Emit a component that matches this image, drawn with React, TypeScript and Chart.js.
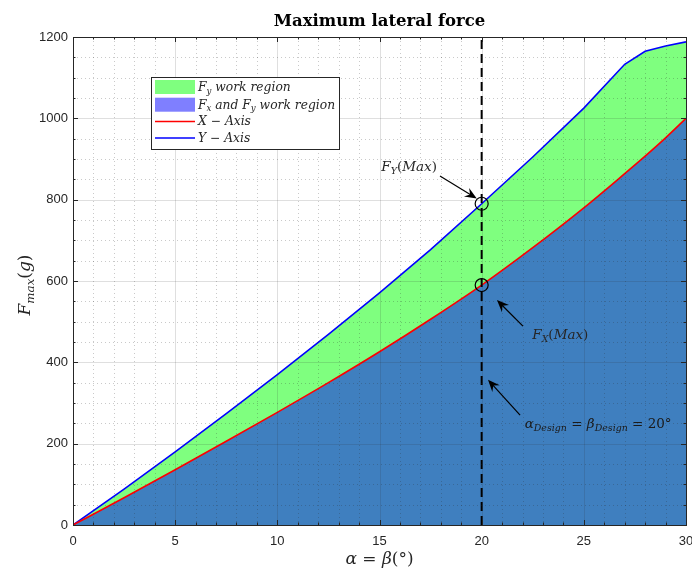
import React, { useEffect, useRef } from 'react';
import { Chart, registerables } from 'chart.js';
Chart.register(...registerables);

// ---- data ----
const alphaDeg = [0, 2.5, 5, 7.5, 10, 12.5, 15, 17.5, 20, 22.5, 25, 27, 28, 29, 30];
const fyMax = [0, 88, 180, 274, 370, 469, 571, 677, 790, 905, 1025, 1133, 1165, 1178, 1188];
const fxMax = [0, 67, 136, 206, 277, 350, 426, 506, 590, 682, 780, 864, 907, 952, 1000];
const xTickValues = [0, 5, 10, 15, 20, 25, 30];
const yTickValues = [0, 200, 400, 600, 800, 1000, 1200];
const designAngle = 20;

const TITLE = 'Maximum lateral force';
type Seg = [string, string];
const xTitle: Seg[] = [['α', 'i'], [' = ', 'r'], ['β', 'i'], ['(°)', 'r']];
const yTitle: Seg[] = [['F', 'i'], ['max', 'si'], ['(', 'r'], ['g', 'i'], [')', 'r']];
const legendLabels: Seg[][] = [
  [['F', 'i'], ['y', 'si'], [' work region', 'i']],
  [['F', 'i'], ['x', 'si'], [' and ', 'i'], ['F', 'i'], ['y', 'si'], [' work region', 'i']],
  [['X', 'i'], [' − ', 'r'], ['Axis', 'i']],
  [['Y', 'i'], [' − ', 'r'], ['Axis', 'i']],
];
const annoLabels: Seg[][] = [
  [['F', 'i'], ['Y', 'si'], ['(', 'r'], ['Max', 'i'], [')', 'r']],
  [['F', 'i'], ['X', 'si'], ['(', 'r'], ['Max', 'i'], [')', 'r']],
  [['α', 'i'], ['Design', 'si'], [' = ', 'r'], ['β', 'i'], ['Design', 'si'], [' = 20°', 'r']],
];
// annotation anchor points in data coordinates: text centre, arrow tail, arrow tip
const annoText = [[16.45, 883], [23.85, 470], [25.7, 251]];
const annoTail = [[17.96, 858], [22.02, 489], [21.88, 270]];
const annoTip = [[19.76, 803], [20.75, 553], [20.31, 357]];

const TXT = '#262626';
const SERIF = '"DejaVu Serif", "Liberation Serif", serif';
const SANS = '"Liberation Sans", Arial, sans-serif';
const PLOT_RIGHT_GAP = 6;

function drawRich(ctx: CanvasRenderingContext2D, segs: Seg[], x: number, y: number, size: number, align = 'left') {
  const fontFor = (st: string) => {
    const sub = st.startsWith('s');
    const it = st.endsWith('i');
    const sz = sub ? size * 0.7 : size;
    return `${it ? 'italic ' : ''}${sz}px ${SERIF}`;
  };
  let total = 0;
  for (const [t, st] of segs) { ctx.font = fontFor(st); total += ctx.measureText(t).width; }
  let cx = align === 'center' ? x - total / 2 : align === 'right' ? x - total : x;
  ctx.textAlign = 'left';
  ctx.textBaseline = 'alphabetic';
  for (const [t, st] of segs) {
    ctx.font = fontFor(st);
    const dy = st.startsWith('s') ? size * 0.22 : 0;
    ctx.fillText(t, cx, y + dy);
    cx += ctx.measureText(t).width;
  }
  return total;
}

function arrow(ctx: CanvasRenderingContext2D, x1: number, y1: number, x2: number, y2: number) {
  const a = Math.atan2(y2 - y1, x2 - x1);
  const c = Math.cos(a), s = Math.sin(a);
  const L = 12, W = 5;
  ctx.strokeStyle = '#000';
  ctx.fillStyle = '#000';
  ctx.lineWidth = 1.2;
  ctx.beginPath();
  ctx.moveTo(x1, y1);
  ctx.lineTo(x2 - c * L * 0.6, y2 - s * L * 0.6);
  ctx.stroke();
  ctx.beginPath();
  ctx.moveTo(x2, y2);
  ctx.lineTo(x2 - c * L + s * W, y2 - s * L - c * W);
  ctx.lineTo(x2 - c * L * 0.65, y2 - s * L * 0.65);
  ctx.lineTo(x2 - c * L - s * W, y2 - s * L + c * W);
  ctx.closePath();
  ctx.fill();
}

const decor = {
  id: 'decor',
  afterLayout(chart: any) {
    const target = chart.width - PLOT_RIGHT_GAP;
    const xs = chart.scales.x;
    chart.chartArea.right = target;
    chart.chartArea.width = target - chart.chartArea.left;
    xs.right = target;
    xs.width = target - xs.left;
    xs.configure();
  },
  afterDatasetsDraw(chart: any) {
    const { ctx, chartArea: ca, scales } = chart;
    const xs = scales.x, ys = scales.y;
    ctx.save();
    // minor grid
    ctx.setLineDash([1, 3]);
    ctx.strokeStyle = 'rgba(38,38,38,0.25)';
    ctx.lineWidth = 1;
    for (let v = 0; v <= 30; v += 1) {
      if (v % 5 === 0) continue;
      const px = Math.round(xs.getPixelForValue(v)) + 0.5;
      ctx.beginPath(); ctx.moveTo(px, ca.top); ctx.lineTo(px, ca.bottom); ctx.stroke();
    }
    for (let v = 0; v <= 1200; v += 50) {
      if (v % 200 === 0) continue;
      const py = Math.round(ys.getPixelForValue(v)) + 0.5;
      ctx.beginPath(); ctx.moveTo(ca.left, py); ctx.lineTo(ca.right, py); ctx.stroke();
    }
    // major grid
    ctx.setLineDash([]);
    ctx.strokeStyle = 'rgba(38,38,38,0.15)';
    for (const v of xTickValues) {
      const px = Math.round(xs.getPixelForValue(v)) + 0.5;
      ctx.beginPath(); ctx.moveTo(px, ca.top); ctx.lineTo(px, ca.bottom); ctx.stroke();
    }
    for (const v of yTickValues) {
      const py = Math.round(ys.getPixelForValue(v)) + 0.5;
      ctx.beginPath(); ctx.moveTo(ca.left, py); ctx.lineTo(ca.right, py); ctx.stroke();
    }
    // tick marks
    ctx.strokeStyle = TXT;
    for (let v = 0; v <= 30; v += 1) {
      const len = v % 5 === 0 ? 5 : 2.5;
      const px = Math.round(xs.getPixelForValue(v)) + 0.5;
      ctx.beginPath();
      ctx.moveTo(px, ca.bottom); ctx.lineTo(px, ca.bottom - len);
      ctx.moveTo(px, ca.top); ctx.lineTo(px, ca.top + len);
      ctx.stroke();
    }
    for (let v = 0; v <= 1200; v += 50) {
      const len = v % 200 === 0 ? 5 : 2.5;
      const py = Math.round(ys.getPixelForValue(v)) + 0.5;
      ctx.beginPath();
      ctx.moveTo(ca.left, py); ctx.lineTo(ca.left + len, py);
      ctx.moveTo(ca.right, py); ctx.lineTo(ca.right - len, py);
      ctx.stroke();
    }
    // box
    ctx.strokeStyle = TXT;
    ctx.lineWidth = 1;
    ctx.strokeRect(Math.round(ca.left) + 0.5, Math.round(ca.top) + 0.5, Math.round(ca.right - ca.left), Math.round(ca.bottom - ca.top));
    ctx.restore();
  },
  afterDraw(chart: any) {
    const { ctx, chartArea: ca, scales } = chart;
    const xs = scales.x, ys = scales.y;
    ctx.save();
    // x tick labels (drawn here so the last one can run off the canvas like the reference)
    ctx.fillStyle = TXT;
    ctx.font = `13px ${SANS}`;
    ctx.textAlign = 'center';
    ctx.textBaseline = 'middle';
    for (const v of xTickValues) ctx.fillText(String(v), xs.getPixelForValue(v), ca.bottom + 16);
    // title
    ctx.fillStyle = '#000';
    ctx.font = `bold 16.5px ${SERIF}`;
    ctx.textAlign = 'center';
    ctx.textBaseline = 'alphabetic';
    ctx.fillText(TITLE, (ca.left + ca.right) / 2, 26);
    // axis titles
    ctx.fillStyle = TXT;
    drawRich(ctx, xTitle, (ca.left + ca.right) / 2, 564, 17, 'center');
    ctx.save();
    ctx.translate(30, (ca.top + ca.bottom) / 2 + 4);
    ctx.rotate(-Math.PI / 2);
    drawRich(ctx, yTitle, 0, 0, 17, 'center');
    ctx.restore();
    // annotations
    for (let i = 0; i < annoLabels.length; i++) {
      const tx = xs.getPixelForValue(annoText[i][0]);
      const ty = ys.getPixelForValue(annoText[i][1]);
      ctx.fillStyle = i === 2 ? '#1a1a1a' : TXT;
      drawRich(ctx, annoLabels[i], tx, ty + 5, 13.5, 'center');
      arrow(ctx,
        xs.getPixelForValue(annoTail[i][0]), ys.getPixelForValue(annoTail[i][1]),
        xs.getPixelForValue(annoTip[i][0]), ys.getPixelForValue(annoTip[i][1]));
    }
    // legend
    const lx = ca.left + 78, ly = ca.top + 40, lw = 188, lh = 72;
    ctx.fillStyle = '#fff';
    ctx.fillRect(lx, ly, lw, lh);
    ctx.strokeStyle = TXT;
    ctx.lineWidth = 1;
    ctx.strokeRect(Math.round(lx) + 0.5, Math.round(ly) + 0.5, lw, lh);
    const rows = [10, 27.7, 44.4, 61];
    const sw = [
      (y: number) => { ctx.fillStyle = 'rgba(0,255,0,0.5)'; ctx.fillRect(lx + 4, y - 7, 40, 14); },
      (y: number) => { ctx.fillStyle = 'rgba(0,0,255,0.5)'; ctx.fillRect(lx + 4, y - 7, 40, 14); },
      (y: number) => { ctx.strokeStyle = '#ff0000'; ctx.lineWidth = 1.5; ctx.beginPath(); ctx.moveTo(lx + 4, y); ctx.lineTo(lx + 44, y); ctx.stroke(); },
      (y: number) => { ctx.strokeStyle = '#0000ff'; ctx.lineWidth = 1.5; ctx.beginPath(); ctx.moveTo(lx + 4, y); ctx.lineTo(lx + 44, y); ctx.stroke(); },
    ];
    for (let i = 0; i < 4; i++) {
      const y = ly + rows[i];
      sw[i](y);
      ctx.fillStyle = TXT;
      drawRich(ctx, legendLabels[i], lx + 47, y + 4, 12.3, 'left');
    }
    ctx.restore();
  },
};

export default function App() {
  const ref = useRef<HTMLCanvasElement>(null);
  useEffect(() => {
    const canvas = ref.current!;
    const fyPts = alphaDeg.map((a, i) => ({ x: a, y: fyMax[i] }));
    const fxPts = alphaDeg.map((a, i) => ({ x: a, y: fxMax[i] }));
    const iD = alphaDeg.indexOf(designAngle);
    const chart = new Chart(canvas, {
      type: 'line',
      data: {
        datasets: [
          {
            label: 'X - Axis', data: fxPts, borderColor: '#ff0000', backgroundColor: 'rgba(0,0,255,0.5)',
            fill: 'origin', borderWidth: 1.6, pointRadius: 0, cubicInterpolationMode: 'monotone', order: 1,
          },
          {
            label: 'Y - Axis', data: fyPts, borderColor: '#0000ff', backgroundColor: 'rgba(0,255,0,0.5)',
            fill: 'origin', borderWidth: 1.6, pointRadius: 0, tension: 0, order: 2,
          },
          {
            label: 'design', data: [{ x: designAngle, y: yTickValues[0] }, { x: designAngle, y: yTickValues[yTickValues.length - 1] }],
            borderColor: '#000', borderDash: [9, 5], borderWidth: 2, pointRadius: 0, fill: false, order: 0,
          },
          {
            label: 'max', data: [{ x: designAngle, y: fyMax[iD] }, { x: designAngle, y: fxMax[iD] }],
            showLine: false, pointRadius: 6.5, pointBorderColor: '#000', pointBackgroundColor: 'rgba(0,0,0,0)',
            pointBorderWidth: 1.2, fill: false, order: -1,
          },
        ] as any,
      },
      options: {
        animation: false,
        responsive: false,
        layout: { padding: { left: 0, right: PLOT_RIGHT_GAP, top: 37, bottom: 0 } },
        plugins: { legend: { display: false }, tooltip: { enabled: false }, title: { display: false } },
        scales: {
          x: {
            type: 'linear', min: 0, max: 30,
            grid: { display: false, drawTicks: false },
            border: { display: false },
            ticks: { stepSize: 5, display: false },
            afterFit: (s: any) => { s.height = 47; s.paddingLeft = 0; s.paddingRight = 0; },
          },
          y: {
            type: 'linear', min: 0, max: 1200,
            grid: { display: false, drawTicks: false },
            border: { display: false },
            ticks: { stepSize: 200, color: TXT, font: { family: SANS, size: 13 }, padding: 5, callback: (v: any) => String(v) },
            afterFit: (s: any) => { s.width = 73; s.paddingTop = 0; s.paddingBottom = 0; },
          },
        },
      } as any,
      plugins: [decor],
    });
    return () => chart.destroy();
  }, []);
  return (
    <div style={{ position: 'absolute', left: 0, top: 0, width: 692, height: 572, background: '#fff' }}>
      <canvas ref={ref} width={692} height={572} style={{ display: 'block' }} />
    </div>
  );
}
